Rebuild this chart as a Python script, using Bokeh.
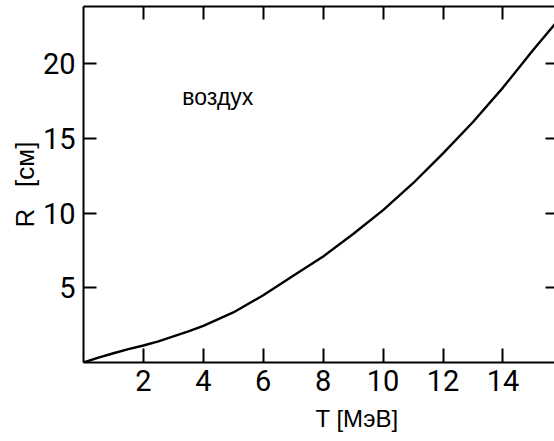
from bokeh.plotting import figure
from bokeh.models import LinearAxis, Label, FixedTicker, Range1d, Title
from bokeh.embed import file_html
from bokeh.resources import INLINE

# Data: range R [cm] of alpha particles in air vs. kinetic energy T [MeV]
T_mev = [0, 0.5, 1, 1.5, 2, 2.5, 3, 3.5, 4, 5, 6, 7, 8, 9, 10, 11, 12, 13, 14, 15, 15.75]
R_cm = [0, 0.32, 0.62, 0.9, 1.14, 1.42, 1.75, 2.08, 2.45, 3.35, 4.5, 5.8, 7.1, 8.6, 10.2, 12.0, 14.0, 16.1, 18.4, 20.9, 22.7]

x_ticks = [2, 4, 6, 8, 10, 12, 14]
y_ticks = [5, 10, 15, 20]
medium_label = "воздух"
x_title = "T [МэВ]"
y_title = "R\u00a0\u00a0\u00a0[см]"

TICK_FONT = "Roboto"
LABEL_FONT = "Liberation Sans"

p = figure(width=554, height=441,
           x_range=Range1d(0, 15.72), y_range=Range1d(0, 23.83),
           output_backend="svg", toolbar_location=None,
           min_border_left=83, min_border_bottom=79,
           min_border_top=6, min_border_right=0,
           x_axis_location=None, y_axis_location=None)
p.xgrid.visible = False
p.ygrid.visible = False
p.outline_line_color = None
p.background_fill_color = "white"
p.border_fill_color = "white"


def style_axis(ax, ticks, tick_in, show_labels, line=True):
    ax.ticker = FixedTicker(ticks=ticks)
    ax.major_tick_in = tick_in
    ax.major_tick_out = 0
    ax.minor_tick_line_color = None
    ax.major_tick_line_width = 2
    ax.major_tick_line_color = "black"
    ax.axis_line_width = 2
    ax.axis_line_color = "black" if line else None
    if show_labels:
        ax.major_label_text_font = TICK_FONT
        ax.major_label_text_font_size = "29px"
        ax.major_label_text_color = "black"
    else:
        ax.major_label_text_font_size = "0px"
        ax.major_label_standoff = 0


bottom = LinearAxis()
style_axis(bottom, x_ticks, 14, True)
bottom.major_label_standoff = 7
p.add_layout(bottom, "below")

left = LinearAxis()
style_axis(left, y_ticks, 13, True)
left.major_label_standoff = 8
p.add_layout(left, "left")

top = LinearAxis()
style_axis(top, x_ticks, 13, False)
p.add_layout(top, "above")

right = LinearAxis()
style_axis(right, y_ticks, 9, False, line=False)
p.add_layout(right, "right")

p.line(T_mev, R_cm, line_color="black", line_width=2.4)

p.add_layout(Label(x=3.30, y=17.8, text=medium_label, text_font=LABEL_FONT,
                   text_font_size="23px", text_color="black",
                   text_baseline="alphabetic", text_align="left"))

# axis titles as side-panel titles
p.add_layout(Title(text=x_title, align="left", offset=232, standoff=18,
                   vertical_align="bottom", text_line_height=0.8,
                   text_font=LABEL_FONT, text_font_size="24px",
                   text_font_style="normal", text_color="black"), "below")
p.add_layout(Title(text=y_title, align="center", standoff=0,
                   text_font=LABEL_FONT, text_font_size="26px",
                   text_font_style="normal", text_color="black"), "left")

open("out.html", "w").write(file_html(p, INLINE))
